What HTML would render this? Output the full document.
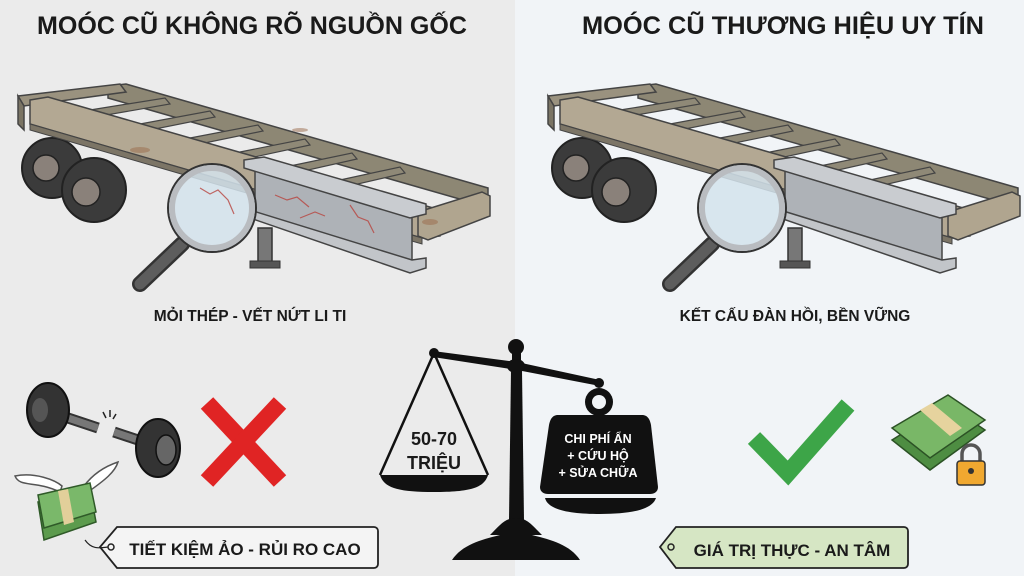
<!DOCTYPE html>
<html><head><meta charset="utf-8"><style>
html,body{margin:0;padding:0;width:1024px;height:576px;overflow:hidden;background:#ececec}
svg{display:block}
text{font-family:"Liberation Sans","DejaVu Sans",sans-serif;font-weight:bold}
</style></head><body>
<svg width="1024" height="576" viewBox="0 0 1024 576" xmlns="http://www.w3.org/2000/svg">
<defs>
<g id="trailer">
  <polygon points="108,86 126,84 488,188 488,200 470,202 108,98" fill="#8d8774" stroke="#444" stroke-width="1.5"/>
  <polygon points="18,96 120,84 126,92 24,106" fill="#9a927f" stroke="#444" stroke-width="1.5"/>
  <polygon points="18,96 24,106 24,130 18,124" fill="#7a7464" stroke="#444" stroke-width="1.5"/>
  <g fill="#8f8977" stroke="#444" stroke-width="1.2">
    <polygon points="90,110 165,98 170,104 95,117"/>
    <polygon points="140,124 210,111 215,117 145,131"/>
    <polygon points="190,138 258,125 263,131 195,145"/>
    <polygon points="240,152 305,139 310,145 245,159"/>
    <polygon points="290,166 352,153 357,159 295,173"/>
    <polygon points="340,180 400,167 405,173 345,187"/>
  </g>
  <circle cx="52" cy="168" r="30" fill="#3b3b3b" stroke="#222" stroke-width="2"/>
  <circle cx="46" cy="168" r="13" fill="#8a817a" stroke="#222" stroke-width="1.5"/>
  <circle cx="94" cy="190" r="32" fill="#3b3b3b" stroke="#222" stroke-width="2"/>
  <circle cx="86" cy="192" r="14" fill="#8a817a" stroke="#222" stroke-width="1.5"/>
  <polygon points="30,100 48,97 440,210 440,236 422,238 30,124" fill="#b3a893" stroke="#444" stroke-width="1.5"/>
  <polygon points="30,124 422,238 422,244 30,130" fill="#7c7566" stroke="#444" stroke-width="1"/>
  <polygon points="418,212 482,192 490,196 490,216 428,240 418,236" fill="#b0a58f" stroke="#444" stroke-width="1.5"/>
  <rect x="258" y="228" width="14" height="34" fill="#777" stroke="#333" stroke-width="1.5"/>
  <rect x="250" y="261" width="30" height="7" fill="#555" stroke="#333" stroke-width="1"/>
  <polygon points="255,170 412,216 412,262 255,212" fill="#aeb2b7" stroke="#444" stroke-width="1.5"/>
  <polygon points="244,160 264,157 426,204 426,214 410,218 244,168" fill="#c9ccd0" stroke="#444" stroke-width="1.5"/>
  <polygon points="250,210 412,260 426,258 426,268 410,273 250,218" fill="#c2c5c9" stroke="#444" stroke-width="1.5"/>
  <line x1="182" y1="244" x2="140" y2="284" stroke="#333" stroke-width="16" stroke-linecap="round"/>
  <line x1="182" y1="244" x2="140" y2="284" stroke="#5d5d5d" stroke-width="11" stroke-linecap="round"/>
  <circle cx="212" cy="208" r="44" fill="#d4e3ec" fill-opacity="0.85" stroke="#333" stroke-width="2"/>
  <circle cx="212" cy="208" r="40" fill="none" stroke="#b9bcc0" stroke-width="6"/>
</g>
</defs>

<rect x="0" y="0" width="515" height="576" fill="#ebebeb"/>
<rect x="515" y="0" width="509" height="576" fill="#f1f4f7"/>

<text x="252" y="34" font-size="25" text-anchor="middle" fill="#1a1a1a" textLength="430" lengthAdjust="spacingAndGlyphs">MOÓC CŨ KHÔNG RÕ NGUỒN GỐC</text>
<text x="783" y="34" font-size="25" text-anchor="middle" fill="#1a1a1a" textLength="402" lengthAdjust="spacingAndGlyphs">MOÓC CŨ THƯƠNG HIỆU UY TÍN</text>

<use href="#trailer"/>
<g fill="none" stroke="#b8443e" stroke-width="1.2" opacity="0.8">
  <path d="M200,188 l10,6 l8,-4 l10,10 l6,14"/><path d="M275,195 l12,5 l10,-3 l12,10"/><path d="M350,205 l8,12 l10,4 l6,12"/><path d="M300,218 l15,-6 l10,4"/>
</g>
<g fill="#9a6a4a" opacity="0.5"><ellipse cx="140" cy="150" rx="10" ry="3"/><ellipse cx="430" cy="222" rx="8" ry="3"/><ellipse cx="300" cy="130" rx="8" ry="2"/></g>
<use href="#trailer" x="530"/>

<text x="250" y="321" font-size="15.5" text-anchor="middle" fill="#1a1a1a">MỎI THÉP - VẾT NỨT LI TI</text>
<text x="795" y="321" font-size="15.5" text-anchor="middle" fill="#1a1a1a">KẾT CẤU ĐÀN HỒI, BỀN VỮNG</text>

<line x1="50" y1="412" x2="98" y2="428" stroke="#333" stroke-width="11"/>
<line x1="50" y1="412" x2="98" y2="428" stroke="#777" stroke-width="7"/>
<line x1="114" y1="432" x2="150" y2="444" stroke="#333" stroke-width="11"/>
<line x1="114" y1="432" x2="150" y2="444" stroke="#777" stroke-width="7"/>
<ellipse cx="48" cy="410" rx="21" ry="27" fill="#333" stroke="#111" stroke-width="2"/>
<ellipse cx="40" cy="410" rx="8" ry="12" fill="#555"/>
<ellipse cx="158" cy="448" rx="22" ry="29" fill="#333" stroke="#111" stroke-width="2"/>
<ellipse cx="166" cy="450" rx="10" ry="15" fill="#666" stroke="#111" stroke-width="1.5"/>
<path d="M103,412 l3,6 M110,410 l0,7 M116,414 l-3,5" stroke="#222" stroke-width="1.5"/>
<g stroke="#e02424" stroke-width="17"><line x1="207" y1="403" x2="280" y2="481"/><line x1="280" y1="403" x2="207" y2="481"/></g>
<path d="M60,492 C35,480 20,488 15,476 C35,472 55,480 62,486 Z" fill="#fff" stroke="#555" stroke-width="1.5"/>
<path d="M88,492 C105,480 115,472 118,462 C100,468 90,478 84,486 Z" fill="#fff" stroke="#555" stroke-width="1.5"/>
<polygon points="38,502 90,490 96,522 44,540" fill="#5c9b4d" stroke="#2f5a28" stroke-width="1.5"/>
<polygon points="38,495 90,483 96,512 44,528" fill="#7ab86a" stroke="#2f5a28" stroke-width="1.5"/>
<polygon points="58,491 68,489 74,522 64,525" fill="#e2cf9a"/>
<path d="M117,527 H374 a4,4 0 0 1 4,4 V564 a4,4 0 0 1 -4,4 H117 L100,547 Z" fill="#f4f4f4" stroke="#222" stroke-width="1.8"/>
<circle cx="111" cy="547" r="3" fill="none" stroke="#222" stroke-width="1.5"/>
<path d="M85,540 C92,550 100,548 108,547" fill="none" stroke="#222" stroke-width="1.2"/>
<text x="245" y="555" font-size="17" text-anchor="middle" fill="#1a1a1a">TIẾT KIỆM ẢO - RỦI RO CAO</text>

<polyline points="754,438 788,473 848,405" fill="none" stroke="#3da548" stroke-width="17"/>
<polygon points="892,440 948,405 985,430 930,470" fill="#4e8d42" stroke="#2c5225" stroke-width="1.5"/>
<polygon points="892,428 948,395 985,420 930,458" fill="#79b767" stroke="#2c5225" stroke-width="1.5"/>
<polygon points="920,410 932,403 962,428 950,436" fill="#e6d39e"/>
<path d="M962,462 v-8 a9,9 0 0 1 18,0 v8" fill="none" stroke="#555" stroke-width="3.5"/>
<rect x="957" y="461" width="28" height="24" rx="3" fill="#f0a830" stroke="#333" stroke-width="1.5"/>
<circle cx="971" cy="471" r="3" fill="#333"/>
<path d="M676,527 H904 a4,4 0 0 1 4,4 V564 a4,4 0 0 1 -4,4 H676 L660,547 Z" fill="#d6e6c4" stroke="#222" stroke-width="1.8"/>
<circle cx="671" cy="547" r="3" fill="none" stroke="#222" stroke-width="1.5"/>
<text x="792" y="556" font-size="17" text-anchor="middle" fill="#1a1a1a">GIÁ TRỊ THỰC - AN TÂM</text>

<g fill="#111">
  <polygon points="433,351 517,362 600,380 600,386 517,370 433,357"/>
  <circle cx="434" cy="353" r="5"/><circle cx="599" cy="383" r="5"/>
  <circle cx="516" cy="347" r="8"/>
  <rect x="512" y="352" width="9" height="10"/>
  <ellipse cx="516" cy="366" rx="9" ry="7"/>
  <polygon points="511,370 522,370 524,520 509,520"/>
  <path d="M490,535 C500,525 505,518 516,518 C527,518 532,525 542,535 Z"/>
  <path d="M452,560 C462,545 480,540 500,535 L532,535 C552,540 570,545 580,560 Z"/>
  <path d="M380,475 H488 C484,488 470,492 434,492 C398,492 384,488 380,475 Z"/>
  <circle cx="599" cy="402" r="14"/>
  <path d="M558,415 H642 C648,415 650,420 651,425 L658,487 C658,492 654,494 650,494 H548 C544,494 540,492 540,487 L549,425 C550,420 552,415 558,415 Z"/>
  <path d="M545,498 H656 C652,510 630,514 600,514 C570,514 548,510 545,498 Z"/>
</g>
<circle cx="599" cy="402" r="7" fill="#f1f4f7"/>
<polyline points="380,475 434,353 488,475" fill="none" stroke="#111" stroke-width="2.5"/>
<text x="434" y="445" font-size="18" text-anchor="middle" fill="#1a1a1a">50-70</text>
<text x="434" y="469" font-size="18" text-anchor="middle" fill="#1a1a1a">TRIỆU</text>
<text x="598" y="443" font-size="12.5" text-anchor="middle" fill="#fff">CHI PHÍ ẨN</text>
<text x="598" y="460" font-size="12.5" text-anchor="middle" fill="#fff">+ CỨU HỘ</text>
<text x="598" y="477" font-size="12.5" text-anchor="middle" fill="#fff">+ SỬA CHỮA</text>
</svg>
</body></html>
